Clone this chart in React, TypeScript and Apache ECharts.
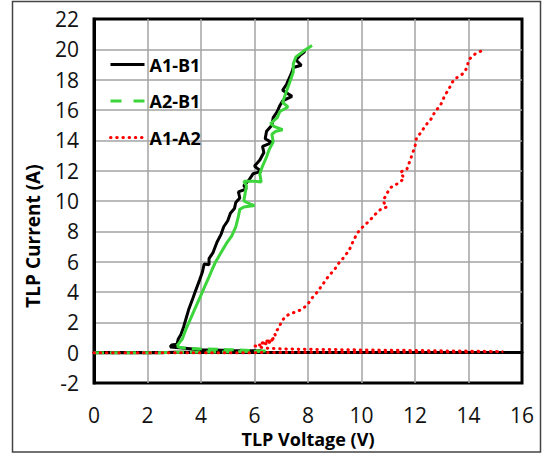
import React, { useEffect, useRef } from "react";
import * as echarts from "echarts";

// TLP I-V curves: [voltage (V), current (A)]
const a1b1: number[][] = [
  [0, 0], [0.6, 0], [1.2, 0], [1.8, 0], [2.4, 0], [3.0, 0.02], [3.6, 0.03], [4.2, 0.05],
  [4.8, 0.06], [5.4, 0.08], [6.0, 0.1], [6.25, 0.12],
  [5.2, 0.15], [4.0, 0.2], [3.3, 0.3], [2.85, 0.38],
  [2.9, 0.5], [3.1, 0.55], [3.15, 0.9], [3.25, 1.2], [3.35, 1.7], [3.45, 2.3], [3.55, 2.9],
  [3.7, 3.6], [3.8, 4.1], [3.95, 4.8], [4.05, 5.3], [4.12, 5.85], [4.3, 5.8], [4.3, 6.2],
  [4.45, 6.6], [4.6, 7.3], [4.75, 7.8], [4.85, 8.3], [5.0, 8.7], [5.1, 9.2], [5.25, 9.5],
  [5.3, 9.9], [5.45, 10.2], [5.4, 10.6], [5.7, 10.8], [5.6, 11.0], [5.8, 11.4], [5.95, 11.8],
  [6.25, 11.95], [6.0, 12.3], [6.2, 12.7], [6.35, 13.2], [6.3, 13.6], [6.65, 13.85], [6.4, 14.1],
  [6.45, 14.6], [6.65, 15.0], [6.7, 15.5], [6.85, 15.9], [6.95, 16.3], [7.05, 16.6], [7.4, 16.9],
  [7.05, 17.3], [7.2, 17.7], [7.3, 18.1], [7.4, 18.5], [7.45, 18.8], [7.75, 18.95], [7.55, 19.3],
  [7.7, 19.6], [7.85, 19.8], [7.9, 20.0],
];

// A2-B1 before snapback (drawn dashed) and after snapback (drawn solid)
const a2b1Off: number[][] = [
  [0, 0], [0.6, 0], [1.2, 0], [1.8, 0], [2.4, 0], [3.0, 0.02], [3.6, 0.03], [4.2, 0.04],
  [4.8, 0.05], [5.4, 0.06], [6.0, 0.08], [6.5, 0.1],
  [5.0, 0.2], [4.0, 0.25], [3.4, 0.3], [3.2, 0.35], [3.1, 0.45],
];
const a2b1On: number[][] = [
  [3.1, 0.45], [3.3, 0.9], [3.45, 1.6], [3.6, 2.2], [3.75, 2.8], [3.9, 3.4], [4.0, 3.8],
  [4.15, 4.4], [4.3, 5.0], [4.42, 5.5], [4.55, 6.0], [4.75, 6.6], [4.95, 7.2], [5.15, 7.7],
  [5.3, 8.3], [5.4, 9.0], [5.45, 9.45], [5.6, 9.6], [6.0, 9.7], [5.85, 9.8], [5.6, 10.0],
  [5.65, 10.5], [5.7, 11.0], [5.6, 11.3], [6.0, 11.3], [6.25, 11.25], [6.2, 11.8], [6.3, 12.3],
  [6.45, 12.9], [6.55, 13.4], [6.7, 13.9], [6.65, 14.4], [6.8, 14.6], [7.05, 14.7], [6.75, 14.9],
  [6.6, 15.1], [6.85, 15.5], [6.95, 15.9], [7.25, 16.2], [7.05, 16.5], [7.15, 17.0], [7.25, 17.5],
  [7.35, 18.0], [7.45, 18.5], [7.45, 19.05], [7.55, 19.5], [7.85, 19.9], [8.15, 20.25],
];

const a1a2: number[][] = [
  [0, 0], [1, 0], [2, 0], [3, 0], [4, 0], [5, 0], [6, 0], [7, 0.02], [8, 0.02], [9, 0.03],
  [10, 0.03], [11, 0.04], [12, 0.04], [13, 0.05], [14, 0.05], [15.3, 0.06],
  [14.2, 0.1], [13, 0.12], [11.8, 0.15], [10.5, 0.17], [9.2, 0.2], [8, 0.22], [7, 0.25],
  [6.4, 0.3], [6.0, 0.45], [6.35, 0.55], [6.6, 0.7], [6.2, 0.6], [6.7, 0.85], [6.45, 0.75],
  [6.8, 1.0], [6.75, 1.3], [6.9, 1.6], [7.0, 2.0], [7.15, 2.4], [7.4, 2.6], [7.7, 2.8],
  [7.95, 3.1], [8.15, 3.6], [8.35, 4.0], [8.55, 4.5], [8.75, 5.0], [9.0, 5.5], [9.15, 5.9],
  [9.35, 6.3], [9.55, 6.8], [9.7, 7.4], [9.85, 7.9], [10.05, 8.3], [10.3, 8.7], [10.5, 9.1],
  [10.75, 9.5], [10.95, 9.6], [10.8, 10.0], [10.95, 10.5], [11.1, 10.9], [11.4, 11.2],
  [11.6, 11.5], [11.45, 11.9], [11.7, 12.1], [11.8, 12.6], [11.9, 13.1], [12.0, 13.6],
  [12.05, 14.1], [12.25, 14.6], [12.45, 15.1], [12.6, 15.4], [12.75, 15.9], [12.95, 16.3],
  [13.1, 16.9], [13.3, 17.5], [13.45, 18.0], [13.8, 18.4], [13.95, 18.8], [14.0, 19.3],
  [14.25, 19.7], [14.6, 20.0],
];

const seriesNames = ["A1-B1", "A2-B1", "A1-A2"];
const xTitle = "TLP Voltage (V)";
const yTitle = "TLP Current (A)";

const FONT = "'Open Sans', 'Noto Sans', sans-serif";
const GREEN = "#3cd63c";
const RED_DOTS = [0.5, 5.7];

export default function App() {
  const ref = useRef<HTMLDivElement>(null);

  useEffect(() => {
    if (!ref.current) return;
    const chart = echarts.init(ref.current, undefined, { renderer: "svg" });
    // legend keys show only the line sample, no point marker
    const hiddenMarker = { opacity: 0, borderWidth: 0 };
    chart.setOption({
      animation: false,
      backgroundColor: "#ffffff",
      grid: {
        left: 94,
        top: 19,
        width: 428,
        height: 364,
        show: true,
        borderColor: "#000",
        borderWidth: 3,
      },
      legend: {
        orient: "vertical",
        left: 109,
        top: 55.5,
        padding: 0,
        itemWidth: 34,
        itemHeight: 14,
        itemGap: 18.5,
        textStyle: { fontFamily: FONT, fontSize: 18, fontWeight: "bold", color: "#000" },
        data: [
          { name: seriesNames[0], itemStyle: hiddenMarker, lineStyle: { type: "solid", width: 3 } },
          { name: seriesNames[1], itemStyle: hiddenMarker, lineStyle: { type: [11, 12], width: 3 } },
          {
            name: seriesNames[2],
            itemStyle: hiddenMarker,
            lineStyle: { type: RED_DOTS, width: 3, cap: "round" },
          },
        ],
      },
      xAxis: {
        type: "value",
        min: 0,
        max: 16,
        interval: 2,
        name: xTitle,
        nameLocation: "middle",
        nameGap: 43,
        nameTextStyle: { fontFamily: FONT, fontSize: 18, fontWeight: "bold", color: "#000" },
        axisLine: { show: true, lineStyle: { color: "#000", width: 3 } },
        axisTick: { show: false },
        axisLabel: { fontFamily: FONT, fontSize: 21, color: "#111", margin: 21 },
        splitLine: {
          show: true,
          showMinLine: false,
          showMaxLine: false,
          lineStyle: { color: "#a3a3a3", width: 1.5 },
        },
      },
      yAxis: {
        type: "value",
        min: -2,
        max: 22,
        interval: 2,
        axisLine: { show: true, lineStyle: { color: "#000", width: 3 } },
        axisTick: { show: false },
        axisLabel: { fontFamily: FONT, fontSize: 21, color: "#111", margin: 15 },
        splitLine: {
          show: true,
          showMinLine: false,
          showMaxLine: false,
          lineStyle: { color: "#a3a3a3", width: 1.5 },
        },
      },
      graphic: [
        {
          type: "rect",
          shape: { x: 12.5, y: 1.5, width: 528, height: 450.5 },
          style: { fill: "none", stroke: "#444", lineWidth: 1.5 },
          silent: true,
          z: -1,
        },
        {
          type: "text",
          x: 33,
          y: 236,
          rotation: Math.PI / 2,
          style: {
            text: yTitle,
            font: `bold 19px ${FONT}`,
            fill: "#000",
            align: "center",
            verticalAlign: "middle",
          },
        },
      ],
      series: [
        {
          name: seriesNames[0],
          type: "line",
          data: a1b1,
          symbol: "none",
          lineStyle: { color: "#000", width: 3 },
          itemStyle: { color: "#000" },
        },
        {
          name: seriesNames[1],
          type: "line",
          data: a2b1Off,
          symbol: "none",
          lineStyle: { color: GREEN, width: 3, type: [10, 6] },
          itemStyle: { color: GREEN },
        },
        {
          name: seriesNames[1],
          type: "line",
          data: a2b1On,
          symbol: "none",
          lineStyle: { color: GREEN, width: 3 },
          itemStyle: { color: GREEN },
        },
        {
          name: seriesNames[2],
          type: "line",
          data: a1a2,
          symbol: "none",
          lineStyle: { color: "#ff0000", width: 3, type: RED_DOTS, cap: "round" },
          itemStyle: { color: "#ff0000" },
        },
      ],
    });
    return () => chart.dispose();
  }, []);

  return (
    <div
      ref={ref}
      style={{ position: "fixed", left: 0, top: 0, width: 545, height: 455 }}
    />
  );
}
